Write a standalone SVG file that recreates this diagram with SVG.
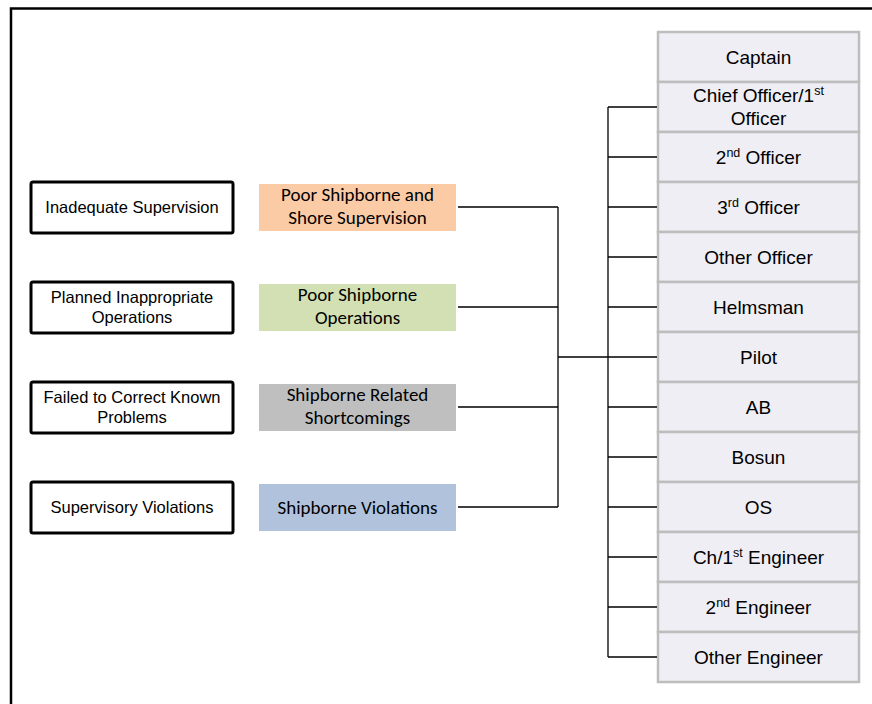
<svg xmlns="http://www.w3.org/2000/svg" width="872" height="704" viewBox="0 0 872 704">
  <style>
    .frame { fill: none; stroke: #000; stroke-width: 2.5; }
    .cause rect { fill: #fff; stroke: #000; stroke-width: 3; }
    .cause text { font-family: "Liberation Sans", Arial, sans-serif; font-size: 16.5px; fill: #000; text-anchor: middle; }
    .cat text { font-family: Carlito, Lato, "Open Sans", sans-serif; font-size: 19px; fill: #000; text-anchor: middle; }
    .role rect { fill: #efeef4; stroke: #bdbdbd; stroke-width: 2.5; }
    .role text { font-family: "Liberation Sans", Arial, sans-serif; font-size: 19px; fill: #000; text-anchor: middle; }
    .sup { font-size: 12.5px; }
    .links { fill: none; stroke: #000; stroke-width: 1.3; }
  </style>

  <rect class="frame" x="11" y="8.5" width="880" height="720"/>

  <!-- supervisory causes (left column) -->
  <g id="cause-inadequate" class="cause">
    <rect x="31" y="182" width="202" height="51" rx="2"/>
    <text x="132" y="213">Inadequate Supervision</text>
  </g>
  <g id="cause-planned" class="cause">
    <rect x="31" y="282" width="202" height="51" rx="2"/>
    <text x="132" y="303">Planned Inappropriate</text>
    <text x="132" y="323">Operations</text>
  </g>
  <g id="cause-failed" class="cause">
    <rect x="31" y="382" width="202" height="51" rx="2"/>
    <text x="132" y="403">Failed to Correct Known</text>
    <text x="132" y="423">Problems</text>
  </g>
  <g id="cause-violations" class="cause">
    <rect x="31" y="482" width="202" height="51" rx="2"/>
    <text x="132" y="513">Supervisory Violations</text>
  </g>

  <!-- shipborne categories (middle column) -->
  <g id="cat-supervision" class="cat">
    <rect x="259" y="184" width="197" height="47" fill="#fbcba6"/>
    <text x="357.5" y="201">Poor Shipborne and</text>
    <text x="357.5" y="224">Shore Supervision</text>
  </g>
  <g id="cat-operations" class="cat">
    <rect x="259" y="284" width="197" height="47" fill="#d3e0b3"/>
    <text x="357.5" y="301">Poor Shipborne</text>
    <text x="357.5" y="324">Operations</text>
  </g>
  <g id="cat-shortcomings" class="cat">
    <rect x="259" y="384" width="197" height="47" fill="#bfbfbf"/>
    <text x="357.5" y="401">Shipborne Related</text>
    <text x="357.5" y="424">Shortcomings</text>
  </g>
  <g id="cat-violations" class="cat">
    <rect x="259" y="484" width="197" height="47" fill="#b1c3dc"/>
    <text x="357.5" y="514">Shipborne Violations</text>
  </g>

  <!-- crew roles (right column) -->
  <g id="role-captain" class="role">
    <rect x="658" y="32" width="201" height="50"/>
    <text x="758.5" y="63.5">Captain</text>
  </g>
  <g id="role-chief-officer" class="role">
    <rect x="658" y="82" width="201" height="50"/>
    <text x="758.5" y="101.5">Chief Officer/1<tspan class="sup" dy="-7">st</tspan></text>
    <text x="758.5" y="125">Officer</text>
  </g>
  <g id="role-2nd-officer" class="role">
    <rect x="658" y="132" width="201" height="50"/>
    <text x="758.5" y="163.5">2<tspan class="sup" dy="-7">nd</tspan><tspan dy="7"> Officer</tspan></text>
  </g>
  <g id="role-3rd-officer" class="role">
    <rect x="658" y="182" width="201" height="50"/>
    <text x="758.5" y="213.5">3<tspan class="sup" dy="-7">rd</tspan><tspan dy="7"> Officer</tspan></text>
  </g>
  <g id="role-other-officer" class="role">
    <rect x="658" y="232" width="201" height="50"/>
    <text x="758.5" y="263.5">Other Officer</text>
  </g>
  <g id="role-helmsman" class="role">
    <rect x="658" y="282" width="201" height="50"/>
    <text x="758.5" y="313.5">Helmsman</text>
  </g>
  <g id="role-pilot" class="role">
    <rect x="658" y="332" width="201" height="50"/>
    <text x="758.5" y="363.5">Pilot</text>
  </g>
  <g id="role-ab" class="role">
    <rect x="658" y="382" width="201" height="50"/>
    <text x="758.5" y="413.5">AB</text>
  </g>
  <g id="role-bosun" class="role">
    <rect x="658" y="432" width="201" height="50"/>
    <text x="758.5" y="463.5">Bosun</text>
  </g>
  <g id="role-os" class="role">
    <rect x="658" y="482" width="201" height="50"/>
    <text x="758.5" y="513.5">OS</text>
  </g>
  <g id="role-chief-engineer" class="role">
    <rect x="658" y="532" width="201" height="50"/>
    <text x="758.5" y="563.5">Ch/1<tspan class="sup" dy="-7">st</tspan><tspan dy="7"> Engineer</tspan></text>
  </g>
  <g id="role-2nd-engineer" class="role">
    <rect x="658" y="582" width="201" height="50"/>
    <text x="758.5" y="613.5">2<tspan class="sup" dy="-7">nd</tspan><tspan dy="7"> Engineer</tspan></text>
  </g>
  <g id="role-other-engineer" class="role">
    <rect x="658" y="632" width="201" height="50"/>
    <text x="758.5" y="663.5">Other Engineer</text>
  </g>

  <!-- connectors -->
  <g id="connectors" class="links">
    <path d="M458 207H558M458 307H558M458 407H558M458 507H558M558 207V507M558 357H608"/>
    <path d="M608 107V657"/>
    <path d="M608 107H657M608 157H657M608 207H657M608 257H657M608 307H657M608 357H657M608 407H657M608 457H657M608 507H657M608 557H657M608 607H657M608 657H657"/>
  </g>
</svg>
